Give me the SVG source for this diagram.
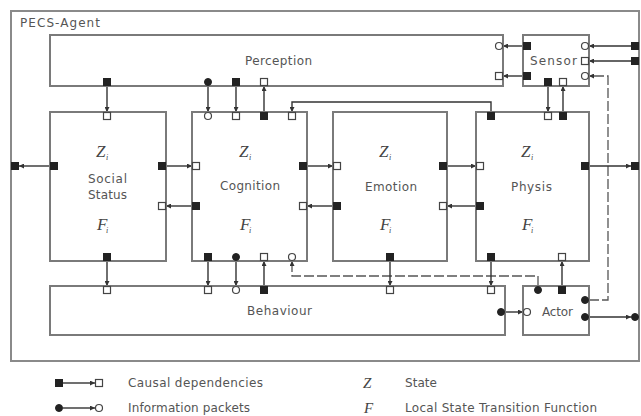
<svg xmlns="http://www.w3.org/2000/svg" width="641" height="416" viewBox="0 0 641 416">
<defs>
<style>
.box{fill:#fff;stroke:#7a7a7a;stroke-width:2}
.outer{fill:#fff;stroke:#8a8a8a;stroke-width:2}
.lbl{font-family:"DejaVu Sans",sans-serif;font-size:12px;fill:#555}
.var{font-family:"Liberation Serif",serif;font-style:italic;font-size:17px;fill:#444}
.lvar{font-family:"Liberation Serif",serif;font-style:italic;font-size:15px;fill:#444}
.sub{font-family:"Liberation Serif",serif;font-style:italic;font-size:8px;fill:#444}
.bs{fill:#222;stroke:#222;stroke-width:1}
.ws{fill:#fff;stroke:#444;stroke-width:1.2}
.c{fill:none;stroke:#333;stroke-width:1.4;marker-end:url(#ah)}
.d{fill:none;stroke:#555;stroke-width:1.3;stroke-dasharray:10,3;marker-end:url(#ah)}
</style>
<marker id="ah" viewBox="0 0 10 10" refX="10" refY="5" markerWidth="5" markerHeight="5" markerUnits="userSpaceOnUse" orient="auto">
<path d="M0,0 L10,5 L0,10 z" fill="#333"/>
</marker>
<rect id="bsq" class="bs" x="-3.5" y="-3.5" width="7" height="7"/>
<rect id="wsq" class="ws" x="-3.5" y="-3.5" width="7" height="7"/>
<circle id="bci" class="bs" r="3.5"/>
<circle id="wci" class="ws" r="3.5"/>
</defs>
<rect width="641" height="416" fill="#fff"/>

<g id="pecs-agent">
<rect class="outer" x="11" y="11" width="628" height="350"/>
<text class="lbl" x="20" y="27" textLength="80">PECS-Agent</text>
</g>

<g id="connectors">
<line class="c" x1="107" y1="86" x2="107" y2="112"/>
<line class="c" x1="208" y1="86" x2="208" y2="112"/>
<line class="c" x1="236" y1="86" x2="236" y2="112"/>
<line class="c" x1="264" y1="112" x2="264" y2="86"/>
<path class="c" d="M491,112 V102 H292 V112"/>
<line class="c" x1="548" y1="86" x2="548" y2="112"/>
<line class="c" x1="563" y1="112" x2="563" y2="86"/>
<line class="c" x1="523" y1="46" x2="503" y2="46"/>
<line class="c" x1="523" y1="76" x2="503" y2="76"/>
<line class="c" x1="631" y1="46" x2="589" y2="46"/>
<line class="c" x1="631" y1="61" x2="589" y2="61"/>
<path class="d" d="M589,300 H608 V76 H589"/>
<line class="c" x1="50" y1="166" x2="19" y2="166"/>
<line class="c" x1="166" y1="166" x2="192" y2="166"/>
<line class="c" x1="192" y1="206" x2="166" y2="206"/>
<line class="c" x1="307" y1="166" x2="333" y2="166"/>
<line class="c" x1="333" y1="206" x2="307" y2="206"/>
<line class="c" x1="447" y1="166" x2="476" y2="166"/>
<line class="c" x1="476" y1="206" x2="447" y2="206"/>
<line class="c" x1="589" y1="166" x2="631" y2="166"/>
<line class="c" x1="107" y1="261" x2="107" y2="286"/>
<line class="c" x1="208" y1="261" x2="208" y2="286"/>
<line class="c" x1="236" y1="261" x2="236" y2="286"/>
<line class="c" x1="264" y1="286" x2="264" y2="261"/>
<path class="d" d="M538,286 V276 H292 V261"/>
<line class="c" x1="390" y1="261" x2="390" y2="286"/>
<line class="c" x1="491" y1="261" x2="491" y2="286"/>
<line class="c" x1="562" y1="286" x2="562" y2="261"/>
<line class="c" x1="505" y1="312" x2="523" y2="312"/>
<line class="c" x1="589" y1="317" x2="631" y2="317"/>
</g>

<g id="perception">
<rect class="box" x="50" y="35" width="453" height="51"/>
<text class="lbl" x="245" y="65" textLength="67">Perception</text>
<use href="#bsq" x="107" y="82"/>
<use href="#bci" x="208" y="82"/>
<use href="#bsq" x="236" y="82"/>
<use href="#wsq" x="264" y="82"/>
<use href="#wci" x="499" y="46"/>
<use href="#wsq" x="499" y="76"/>
</g>

<g id="sensor">
<rect class="box" x="523" y="35" width="66" height="51"/>
<text class="lbl" x="530" y="65" textLength="47">Sensor</text>
<use href="#bsq" x="527" y="46"/>
<use href="#bsq" x="527" y="76"/>
<use href="#wci" x="585" y="46"/>
<use href="#wsq" x="585" y="61"/>
<use href="#wci" x="585" y="76"/>
<use href="#bsq" x="548" y="82"/>
<use href="#wsq" x="563" y="82"/>
</g>

<g id="env-ports">
<use href="#bsq" x="635" y="46"/>
<use href="#bsq" x="635" y="61"/>
<use href="#bsq" x="15" y="166"/>
<use href="#bsq" x="635" y="166"/>
<use href="#bci" x="635" y="317"/>
</g>

<g id="social-status">
<rect class="box" x="50" y="112" width="116" height="149"/>
<text class="var" x="96" y="157">Z</text><text class="sub" x="106" y="160">i</text>
<text class="lbl" x="88" y="183" textLength="39">Social</text>
<text class="lbl" x="88" y="199" textLength="39">Status</text>
<text class="var" x="97" y="230">F</text><text class="sub" x="106" y="233">i</text>
<use href="#wsq" x="107" y="116"/>
<use href="#bsq" x="54" y="166"/>
<use href="#bsq" x="162" y="166"/>
<use href="#wsq" x="162" y="206"/>
<use href="#bsq" x="107" y="257"/>
</g>

<g id="cognition">
<rect class="box" x="192" y="112" width="115" height="149"/>
<text class="var" x="239" y="157">Z</text><text class="sub" x="249" y="160">i</text>
<text class="lbl" x="220" y="190" textLength="60">Cognition</text>
<text class="var" x="240" y="230">F</text><text class="sub" x="249" y="233">i</text>
<use href="#wci" x="208" y="116"/>
<use href="#wsq" x="236" y="116"/>
<use href="#bsq" x="264" y="116"/>
<use href="#wsq" x="292" y="116"/>
<use href="#wsq" x="196" y="166"/>
<use href="#bsq" x="196" y="206"/>
<use href="#bsq" x="303" y="166"/>
<use href="#wsq" x="303" y="206"/>
<use href="#bsq" x="208" y="257"/>
<use href="#bci" x="236" y="257"/>
<use href="#wsq" x="264" y="257"/>
<use href="#wci" x="292" y="257"/>
</g>

<g id="emotion">
<rect class="box" x="333" y="112" width="114" height="149"/>
<text class="var" x="379" y="157">Z</text><text class="sub" x="389" y="160">i</text>
<text class="lbl" x="365" y="191" textLength="52">Emotion</text>
<text class="var" x="380" y="230">F</text><text class="sub" x="389" y="233">i</text>
<use href="#wsq" x="337" y="166"/>
<use href="#bsq" x="337" y="206"/>
<use href="#bsq" x="443" y="166"/>
<use href="#wsq" x="443" y="206"/>
<use href="#bsq" x="390" y="257"/>
</g>

<g id="physis">
<rect class="box" x="476" y="112" width="113" height="149"/>
<text class="var" x="521" y="157">Z</text><text class="sub" x="531" y="160">i</text>
<text class="lbl" x="511" y="191" textLength="41">Physis</text>
<text class="var" x="522" y="230">F</text><text class="sub" x="531" y="233">i</text>
<use href="#bsq" x="491" y="116"/>
<use href="#wsq" x="548" y="116"/>
<use href="#bsq" x="563" y="116"/>
<use href="#wsq" x="480" y="166"/>
<use href="#bsq" x="480" y="206"/>
<use href="#bsq" x="585" y="166"/>
<use href="#bsq" x="491" y="257"/>
<use href="#wsq" x="562" y="257"/>
</g>

<g id="behaviour">
<rect class="box" x="50" y="286" width="455" height="49"/>
<text class="lbl" x="247" y="315" textLength="65">Behaviour</text>
<use href="#wsq" x="107" y="290"/>
<use href="#wsq" x="208" y="290"/>
<use href="#wci" x="236" y="290"/>
<use href="#bsq" x="264" y="290"/>
<use href="#wsq" x="390" y="290"/>
<use href="#wsq" x="491" y="290"/>
<use href="#bci" x="501" y="312"/>
</g>

<g id="actor">
<rect class="box" x="523" y="286" width="66" height="49"/>
<text class="lbl" x="542" y="316" textLength="31">Actor</text>
<use href="#wci" x="527" y="312"/>
<use href="#bci" x="538" y="290"/>
<use href="#bsq" x="562" y="290"/>
<use href="#bci" x="585" y="300"/>
<use href="#bci" x="585" y="317"/>
</g>

<g id="legend">
<use href="#bsq" x="59" y="383"/>
<line class="c" x1="63" y1="383" x2="95" y2="383"/>
<use href="#wsq" x="99" y="383"/>
<text class="lbl" x="128" y="387" textLength="135">Causal dependencies</text>
<use href="#bci" x="59" y="408"/>
<line class="c" x1="63" y1="408" x2="95" y2="408"/>
<use href="#wci" x="99" y="408"/>
<text class="lbl" x="128" y="412" textLength="122">Information packets</text>
<text class="lvar" x="363" y="388">Z</text>
<text class="lbl" x="405" y="387" textLength="32">State</text>
<text class="lvar" x="364" y="413">F</text>
<text class="lbl" x="405" y="412" textLength="192">Local State Transition Function</text>
</g>
</svg>
